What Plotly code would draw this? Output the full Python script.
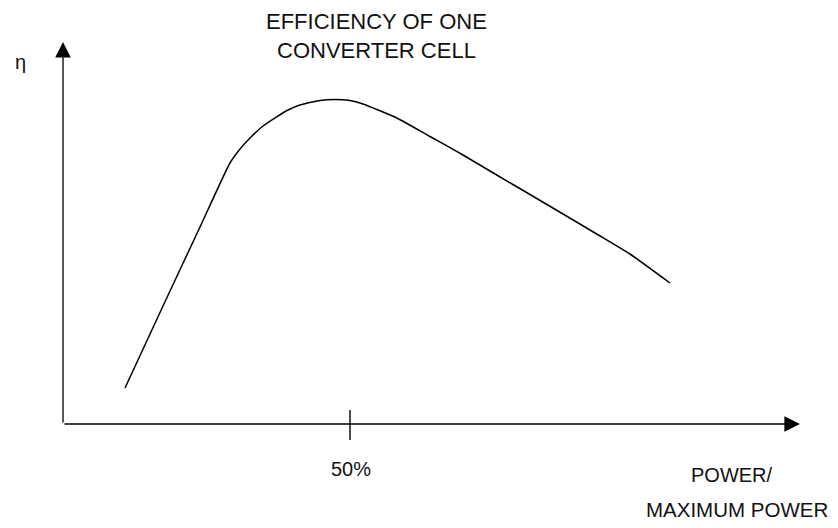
import plotly.graph_objects as go

# Normalised power (P / Pmax) and relative efficiency
power_ratio = [0.1080, 0.1807, 0.2387, 0.2909, 0.3084, 0.3258, 0.3484, 0.3723, 0.3920,
               0.4129, 0.4477, 0.4739, 0.5000, 0.5226, 0.5814, 0.6394, 0.6969, 0.7556,
               0.8136, 0.8711, 0.9298, 0.9878, 1.0575]
efficiency = [0.090, 0.315, 0.4925, 0.6525, 0.6875, 0.715, 0.745, 0.768, 0.785,
              0.7975, 0.8088, 0.8113, 0.8088, 0.800, 0.765, 0.7188, 0.6725, 0.6225,
              0.5738, 0.525, 0.475, 0.425, 0.3525]
tick_value = 0.5
tick_label = "50%"
title_lines = ["EFFICIENCY OF ONE", "CONVERTER CELL"]
xlabel_lines = ["POWER/", "MAXIMUM POWER"]
ylabel = "η"

W, H = 838, 528
FONT = "Liberation Sans Narrow, Arial Narrow, Liberation Sans, Arial, sans-serif"

fig = go.Figure()
fig.add_trace(go.Scatter(x=power_ratio, y=efficiency, mode="lines",
                         line=dict(color="black", width=1.5, shape="spline", smoothing=0.5),
                         hoverinfo="skip", showlegend=False))

x_min, x_max = -63 / 574, (W - 63) / 574
y_min, y_max = -104 / 400, 424 / 400
x_end = (800 - 63) / 574
y_end = (424 - 42) / 400

annotations = [
    dict(x=0, y=y_end, ax=0, ay=0, xref="x", yref="y", axref="x", ayref="y",
         showarrow=True, arrowhead=2, arrowsize=2.4, arrowwidth=1.3, arrowcolor="black", text=""),
    dict(x=x_end, y=0, ax=0, ay=0, xref="x", yref="y", axref="x", ayref="y",
         showarrow=True, arrowhead=2, arrowsize=2.4, arrowwidth=1.3, arrowcolor="black", text=""),
]

def ptxt(text, px, py, size):
    return dict(x=px / W, y=1 - py / H, xref="paper", yref="paper", text=text,
                showarrow=False, xanchor="center", yanchor="middle",
                font=dict(family=FONT, size=size, color="#111"))

annotations.append(ptxt(title_lines[0], 376, 22, 22))
annotations.append(ptxt(title_lines[1], 376, 50, 22))
annotations.append(ptxt(tick_label, 351, 469, 20))
annotations.append(ptxt(xlabel_lines[0], 732, 475, 20))
annotations.append(ptxt(xlabel_lines[1], 737, 509, 20.5))
annotations.append(ptxt(ylabel, 20, 62, 20))

fig.add_shape(type="line", x0=tick_value, x1=tick_value, y0=0.035, y1=-0.04,
              xref="x", yref="y", line=dict(color="black", width=1.4))

fig.update_layout(
    width=W, height=H,
    margin=dict(l=0, r=0, t=0, b=0),
    paper_bgcolor="white", plot_bgcolor="white",
    xaxis=dict(range=[x_min, x_max], visible=False, fixedrange=True),
    yaxis=dict(range=[y_min, y_max], visible=False, fixedrange=True),
    annotations=annotations,
    showlegend=False,
)

fig.write_html("out.html", config={"displayModeBar": False},
               post_script="document.body.style.margin='0';document.body.style.overflow='hidden';")
